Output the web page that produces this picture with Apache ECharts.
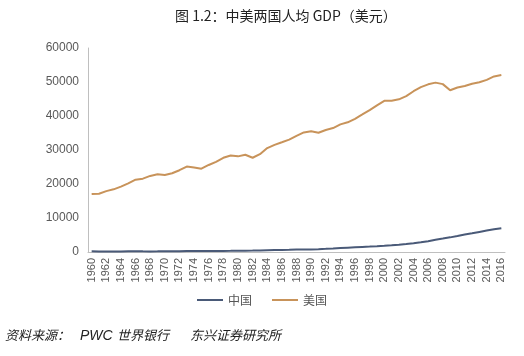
<!DOCTYPE html>
<html><head><meta charset="utf-8">
<script src="https://cdn.jsdelivr.net/npm/echarts@6/dist/echarts.min.js"></script>
<style>html,body{margin:0;padding:0;background:#fff}#c{width:524px;height:356px}</style>
</head><body><div id="c"></div>
<script>
const years = [];
for (let y = 1960; y <= 2016; y++) years.push(String(y));
const china = [192,140,136,150,175,200,215,196,183,207,240,249,253,268,270,288,279,298,326,346,368,382,410,448,508,567,606,665,726,743,761,821,927,1042,1164,1276,1387,1500,1600,1706,1835,1975,2142,2343,2565,2842,3186,3621,3952,4306,4708,5128,5501,5897,6293,6693,7000];
const usa = [17036,17142,17910,18431,19231,20207,21268,21566,22376,22857,22668,23150,24050,25140,24837,24510,25600,26520,27700,28400,28130,28590,27720,28770,30570,31520,32280,33050,34140,35160,35500,35090,35900,36460,37530,38140,39180,40450,41740,43150,44470,44480,44910,45870,47290,48480,49320,49820,49380,47580,48370,48830,49500,49910,50640,51640,52060];
const seriesNames = ['中国','美国'];
const titleText = '图 1.2：中美两国人均 GDP（美元）';
const sourceParts = ['资料来源：', 'PWC', '世界银行', '东兴证券研究所'];

const chart = echarts.init(document.getElementById('c'));
const font = 'italic 13px "Noto Sans CJK SC"';
chart.setOption({
  animation: false,
  backgroundColor: '#fff',
  title: {text: titleText, left: 170, top: 4,
    textStyle: {fontSize: 14, fontWeight: 'normal', color: '#222', fontFamily: 'Noto Sans CJK SC'}},
  graphic: [
    {type: 'text', left: 5, top: 329, style: {text: sourceParts[0], font: font, fill: '#222'}},
    {type: 'text', left: 80, top: 329, style: {text: sourceParts[1], font: 'italic 14px "Liberation Sans"', fill: '#222'}},
    {type: 'text', left: 117, top: 329, style: {text: sourceParts[2], font: font, fill: '#222'}},
    {type: 'text', left: 190, top: 329, style: {text: sourceParts[3], font: font, fill: '#222'}}
  ],
  legend: {bottom: 45, left: 'center', itemWidth: 26, itemHeight: 2, itemGap: 20,
    icon: 'rect',
    textStyle: {fontSize: 12, color: '#555', fontFamily: 'Noto Sans CJK SC'},
    data: seriesNames},
  grid: {left: 88, right: 19, top: 48, bottom: 104},
  xAxis: {type: 'category', data: years, boundaryGap: true,
    axisLine: {lineStyle: {color: '#bfbfbf'}},
    axisTick: {show: false},
    axisLabel: {interval: 1, rotate: 90, fontSize: 11, color: '#595959', margin: 6, fontFamily: 'Liberation Sans'}},
  yAxis: {type: 'value', min: 0, max: 60000, interval: 10000,
    axisLine: {show: true, lineStyle: {color: '#bfbfbf'}},
    splitLine: {show: false},
    axisLabel: {fontSize: 12, color: '#595959', margin: 9, fontFamily: 'Liberation Sans',
      formatter: v => String(v)}},
  series: [
    {name: seriesNames[0], type: 'line', data: china, showSymbol: false,
      lineStyle: {width: 2, color: '#4a5a78'}, itemStyle: {color: '#4a5a78'}},
    {name: seriesNames[1], type: 'line', data: usa, showSymbol: false,
      lineStyle: {width: 2, color: '#c8935a'}, itemStyle: {color: '#c8935a'}}
  ]
});
</script></body></html>
